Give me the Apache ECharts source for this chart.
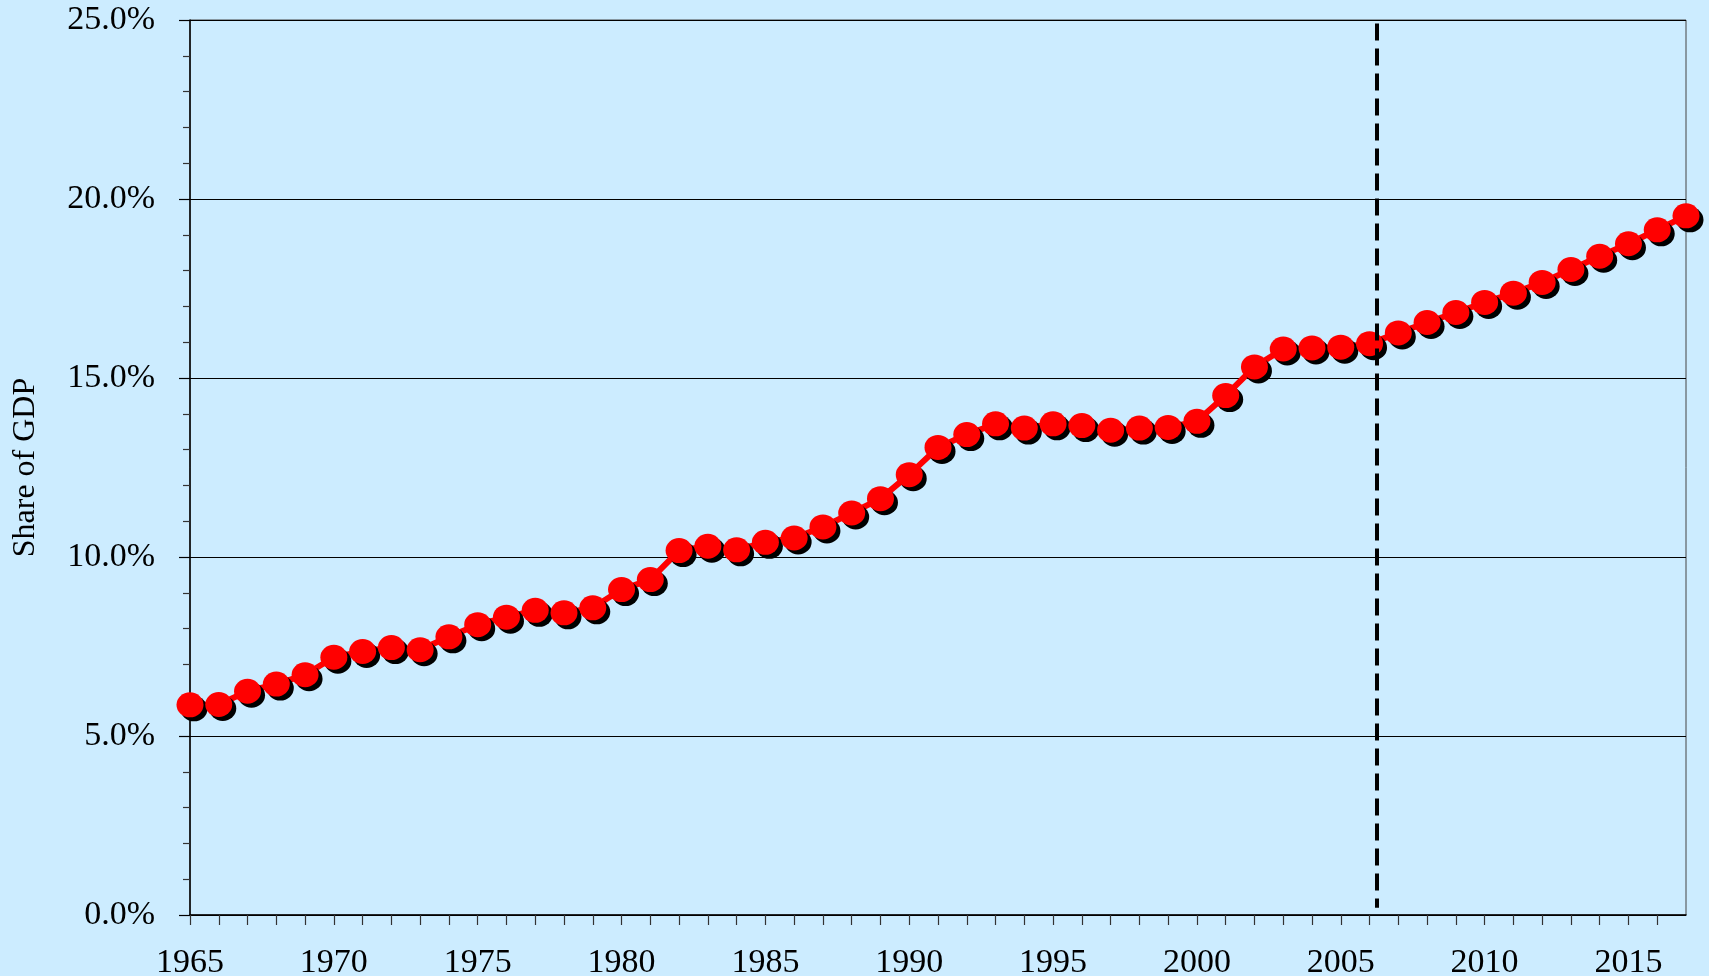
<!DOCTYPE html>
<html>
<head>
<meta charset="utf-8">
<script src="https://cdn.jsdelivr.net/npm/echarts@6/dist/echarts.min.js"></script>
<style>
html,body{margin:0;padding:0;background:#CCECFF;}
#chart{width:1709px;height:976px;}
</style>
</head>
<body>
<div id="chart"></div>
<script>
const years = [1965,1966,1967,1968,1969,1970,1971,1972,1973,1974,1975,1976,1977,1978,1979,1980,1981,1982,1983,1984,1985,1986,1987,1988,1989,1990,1991,1992,1993,1994,1995,1996,1997,1998,1999,2000,2001,2002,2003,2004,2005,2006,2007,2008,2009,2010,2011,2012,2013,2014,2015,2016,2017];
const shareOfGDP = [5.87,5.88,6.25,6.45,6.71,7.20,7.36,7.47,7.41,7.77,8.11,8.32,8.51,8.44,8.58,9.09,9.37,10.18,10.30,10.20,10.41,10.53,10.84,11.23,11.63,12.30,13.06,13.42,13.72,13.60,13.72,13.67,13.54,13.60,13.62,13.79,14.51,15.31,15.81,15.84,15.86,15.96,16.26,16.55,16.83,17.11,17.37,17.67,18.03,18.40,18.75,19.14,19.53];
const yTicks = [0,5,10,15,20,25];
const projectionStart = 2006.24;
const yTitle = 'Share of GDP';

const font = '"Liberation Serif", "Times New Roman", serif';
const chart = echarts.init(document.getElementById('chart'));
chart.setOption({
  animation: false,
  backgroundColor: '#CCECFF',
  grid: {left: 190, right: 23, top: 20, bottom: 61, containLabel: false, outerBoundsMode: 'none', show: true, borderColor: '#444', borderWidth: 1, backgroundColor: 'transparent'},
  xAxis: {
    type: 'value', min: years[0], max: years[years.length-1], interval: 1,
    axisLine: {show: true, onZero: false, lineStyle: {color: '#000', width: 1.5}},
    axisTick: {show: true, length: 10, lineStyle: {color: '#333', width: 1.2}},
    splitLine: {show: false},
    axisLabel: {
      color: '#000', fontFamily: font, fontSize: 34, margin: 31,
      showMaxLabel: false,
      formatter: v => (v % 5 === 0 ? String(v) : '')
    }
  },
  yAxis: {
    type: 'value', min: yTicks[0], max: yTicks[yTicks.length-1], interval: 5,
    name: yTitle, nameLocation: 'middle', nameGap: 148, nameRotate: 90,
    nameTextStyle: {color: '#000', fontFamily: font, fontSize: 32},
    axisLine: {show: true, lineStyle: {color: '#000', width: 1.5}},
    axisTick: {show: true, length: 11, lineStyle: {color: '#000', width: 1.2}},
    minorTick: {show: true, splitNumber: 5, length: 7, lineStyle: {color: '#333', width: 1.2}},
    splitLine: {show: true, lineStyle: {color: '#000', width: 1.2}},
    axisLabel: {color: '#000', fontFamily: font, fontSize: 34, margin: 35, formatter: v => v.toFixed(1) + '%'}
  },
  series: [{
    type: 'line',
    data: years.map((y, i) => [y, shareOfGDP[i]]),
    symbol: 'circle',
    symbolSize: [27, 25],
    lineStyle: {color: '#FF0000', width: 6},
    itemStyle: {color: '#FF0000', shadowColor: '#000', shadowBlur: 0, shadowOffsetX: 4, shadowOffsetY: 4},
    markLine: {
      silent: true, symbol: 'none', label: {show: false},
      lineStyle: {color: '#000', width: 4, type: [17, 8]},
      data: [[{coord: [projectionStart, 24.9]}, {coord: [projectionStart, 0.2]}]]
    }
  }]
});
</script>
</body>
</html>
